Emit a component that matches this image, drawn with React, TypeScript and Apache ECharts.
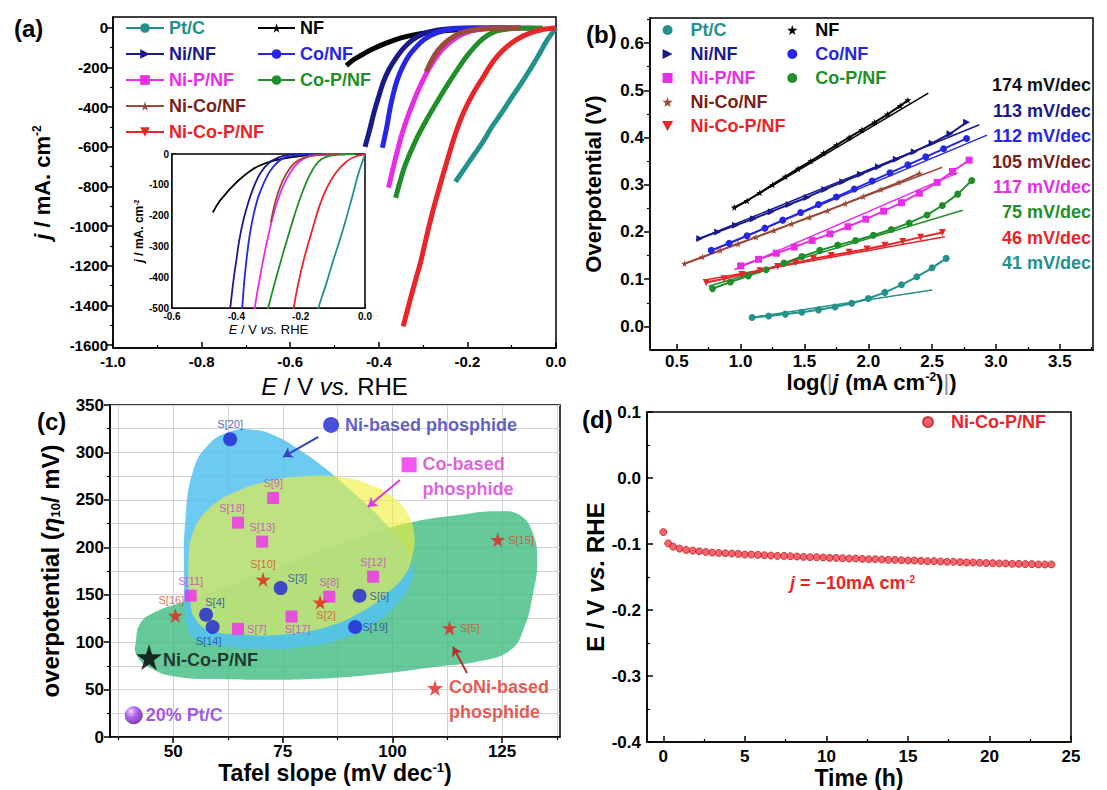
import React, { useEffect, useRef } from "react";
import * as echarts from "echarts";

const FONT = "'Liberation Sans', Arial, Helvetica, sans-serif";

// ---------- (a) polarization curves: [E (V vs. RHE), j (mA cm-2)]
const lsvPtC = [[0.0, -2], [-0.008, -25], [-0.02, -62], [-0.04, -140], [-0.06, -215], [-0.08, -285], [-0.1, -350], [-0.12, -420], [-0.145, -500], [-0.165, -575], [-0.185, -640], [-0.205, -705], [-0.227, -776]];
const lsvNF = [[-0.08, 0], [-0.16, -3], [-0.22, -9], [-0.27, -18], [-0.31, -30], [-0.35, -50], [-0.385, -78], [-0.415, -108], [-0.44, -138], [-0.458, -162], [-0.473, -190]];
const lsvNiNF = [[-0.12, 0], [-0.2, -1], [-0.24, -4], [-0.27, -12], [-0.3, -30], [-0.325, -62], [-0.345, -105], [-0.362, -155], [-0.377, -210], [-0.39, -275], [-0.4, -345], [-0.41, -420], [-0.419, -500], [-0.431, -600]];
const lsvCoNF = [[-0.1, 0], [-0.18, -1], [-0.24, -8], [-0.27, -25], [-0.295, -55], [-0.315, -95], [-0.332, -140], [-0.347, -200], [-0.358, -260], [-0.367, -330], [-0.375, -410], [-0.382, -500], [-0.392, -605]];
const lsvNiPNF = [[-0.05, 0], [-0.13, -2], [-0.18, -10], [-0.21, -30], [-0.235, -65], [-0.257, -110], [-0.277, -170], [-0.295, -240], [-0.31, -310], [-0.323, -380], [-0.335, -450], [-0.347, -530], [-0.358, -620], [-0.368, -710], [-0.378, -806]];
const lsvCoPNF = [[-0.03, 0], [-0.08, -2], [-0.11, -6], [-0.135, -16], [-0.155, -38], [-0.175, -75], [-0.195, -125], [-0.215, -185], [-0.24, -270], [-0.265, -360], [-0.29, -455], [-0.315, -560], [-0.34, -690], [-0.352, -775], [-0.362, -857]];
const lsvNiCoNF = [[-0.08, 0], [-0.15, -3], [-0.19, -12], [-0.22, -30], [-0.245, -65], [-0.265, -110], [-0.28, -160], [-0.293, -222]];
const lsvNiCoPNF = [[0.0, -1], [-0.03, -8], [-0.058, -25], [-0.09, -60], [-0.119, -111], [-0.142, -170], [-0.164, -247], [-0.187, -330], [-0.209, -428], [-0.228, -540], [-0.245, -665], [-0.262, -795], [-0.279, -932], [-0.293, -1060], [-0.306, -1184], [-0.318, -1280], [-0.329, -1370], [-0.345, -1506]];

// ---------- (b) Tafel plots: [log|j|, overpotential (V)]
const tafelPtC = [[1.09, 0.019], [1.22, 0.022], [1.35, 0.026], [1.48, 0.03], [1.61, 0.035], [1.74, 0.041], [1.87, 0.049], [2.0, 0.059], [2.13, 0.072], [2.26, 0.088], [2.38, 0.105], [2.5, 0.124], [2.61, 0.144]];
const tafelNF = [[0.95, 0.252], [1.05, 0.266], [1.15, 0.283], [1.25, 0.3], [1.35, 0.317], [1.45, 0.334], [1.55, 0.35], [1.65, 0.367], [1.75, 0.384], [1.85, 0.4], [1.95, 0.416], [2.05, 0.432], [2.15, 0.449], [2.25, 0.467], [2.31, 0.479]];
const tafelNiNF = [[0.68, 0.186], [0.82, 0.2], [0.96, 0.214], [1.1, 0.228], [1.24, 0.243], [1.38, 0.258], [1.52, 0.273], [1.66, 0.29], [1.8, 0.306], [1.94, 0.322], [2.08, 0.338], [2.22, 0.354], [2.36, 0.37], [2.5, 0.388], [2.64, 0.408], [2.77, 0.432]];
const tafelCoNF = [[0.77, 0.161], [0.91, 0.176], [1.05, 0.192], [1.19, 0.208], [1.33, 0.225], [1.47, 0.241], [1.61, 0.258], [1.75, 0.274], [1.89, 0.291], [2.03, 0.308], [2.17, 0.325], [2.31, 0.342], [2.45, 0.359], [2.59, 0.376], [2.77, 0.398]];
const tafelNiPNF = [[1.0, 0.128], [1.14, 0.142], [1.28, 0.155], [1.42, 0.168], [1.56, 0.182], [1.7, 0.196], [1.84, 0.211], [1.98, 0.227], [2.12, 0.244], [2.26, 0.262], [2.4, 0.282], [2.54, 0.305], [2.66, 0.328], [2.79, 0.352]];
const tafelCoPNF = [[0.78, 0.08], [0.92, 0.094], [1.06, 0.107], [1.2, 0.12], [1.34, 0.134], [1.48, 0.148], [1.62, 0.161], [1.76, 0.172], [1.9, 0.182], [2.04, 0.193], [2.18, 0.205], [2.32, 0.219], [2.46, 0.236], [2.58, 0.256], [2.7, 0.28], [2.81, 0.309]];
const tafelNiCoNF = [[0.56, 0.133], [0.7, 0.147], [0.84, 0.161], [0.98, 0.175], [1.12, 0.189], [1.26, 0.203], [1.4, 0.217], [1.54, 0.231], [1.68, 0.245], [1.82, 0.26], [1.96, 0.275], [2.1, 0.29], [2.24, 0.305], [2.4, 0.324]];
const tafelNiCoPNF = [[0.73, 0.093], [0.87, 0.101], [1.01, 0.11], [1.15, 0.118], [1.29, 0.127], [1.43, 0.135], [1.57, 0.143], [1.71, 0.15], [1.85, 0.157], [1.99, 0.164], [2.13, 0.172], [2.27, 0.18], [2.41, 0.189], [2.58, 0.199]];

const fitPtC = [[1.09, 0.019], [2.5, 0.077]];
const fitNF = [[0.95, 0.25], [2.47, 0.494]];
const fitNiNF = [[0.65, 0.183], [2.87, 0.427]];
const fitCoNF = [[0.75, 0.158], [2.93, 0.405]];
const fitNiPNF = [[0.95, 0.12], [2.7, 0.325]];
const fitCoPNF = [[0.75, 0.085], [2.74, 0.246]];
const fitNiCoNF = [[0.55, 0.131], [2.58, 0.337]];
const fitNiCoPNF = [[0.72, 0.098], [2.6, 0.19]];

const tafelSlopeLabels = ["174 mV/dec", "113 mV/dec", "112 mV/dec", "105 mV/dec", "117 mV/dec", "75 mV/dec", "46 mV/dec", "41 mV/dec"];

// ---------- (c) comparison: Tafel slope (mV dec-1) vs overpotential eta10 (mV)
const niSlope = [63, 74.5, 57.5, 59, 92.5, 91.5];
const niEta = [314, 157, 129, 116, 149, 116];
const niRef = ["S[20]", "S[3]", "S[4]", "S[14]", "S[6]", "S[19]"];
const coSlope = [72.8, 64.8, 70.3, 54, 64.8, 77, 85.6, 95.6];
const coEta = [252, 226, 206, 149, 114, 127, 148, 169];
const coRef = ["S[9]", "S[18]", "S[13]", "S[11]", "S[7]", "S[17]", "S[8]", "S[12]"];
const coniSlope = [70.5, 50.5, 83.5, 124, 113];
const coniEta = [166, 128, 142, 208, 115];
const coniRef = ["S[10]", "S[16]", "S[2]", "S[15]", "S[5]"];
const thisWork = [44.5, 84];
const ptcPoint = [41, 23];

const blobNi = [[53, 120], [52.5, 170], [52.8, 230], [54.5, 280], [58, 308], [63, 322], [68, 324], [73, 318], [79, 302], [85, 282], [91, 258], [97, 232], [102, 205], [104.5, 180], [104, 160], [101, 140], [96, 120], [89, 104], [80, 95], [70, 93], [61, 96], [55, 104]];
const blobCo = [[54, 140], [53.5, 180], [54.5, 215], [58, 240], [64, 258], [72, 270], [80, 275], [88, 274], [95, 266], [100, 253], [103.5, 235], [105, 212], [104.5, 190], [103, 172], [99, 152], [93, 132], [85, 116], [75, 108], [65, 108], [58, 113], [55, 125]];
const blobCoNi = [[41.5, 100], [42.5, 120], [46, 132], [52, 142], [60, 155], [70, 172], [80, 190], [92, 210], [104, 226], [115, 234], [124, 238], [129, 234], [132, 215], [133, 185], [132, 150], [130, 115], [127, 92], [120, 80], [110, 74], [96, 66], [80, 61], [62, 61], [50, 64], [44, 75], [41.5, 88]];

// ---------- (d) stability at j = -10 mA cm-2
const stabilityTime = [0, 0.3, 0.6, 1.0, 1.4, 1.8, 2.2, 2.6, 3.0, 3.4, 3.8, 4.2, 4.6, 5.0, 5.4, 5.8, 6.2, 6.6, 7.0, 7.4, 7.8, 8.2, 8.6, 9.0, 9.4, 9.8, 10.2, 10.6, 11.0, 11.4, 11.8, 12.2, 12.6, 13.0, 13.4, 13.8, 14.2, 14.6, 15.0, 15.4, 15.8, 16.2, 16.6, 17.0, 17.4, 17.8, 18.2, 18.6, 19.0, 19.4, 19.8, 20.2, 20.6, 21.0, 21.4, 21.8, 22.2, 22.6, 23.0, 23.4, 23.8];
const stabilityE = [-0.082, -0.099, -0.104, -0.107, -0.109, -0.11, -0.111, -0.112, -0.113, -0.1135, -0.114, -0.1145, -0.115, -0.116, -0.116, -0.1165, -0.117, -0.1175, -0.118, -0.118, -0.1185, -0.119, -0.1195, -0.12, -0.12, -0.1205, -0.121, -0.121, -0.1215, -0.122, -0.122, -0.1225, -0.123, -0.123, -0.1235, -0.124, -0.124, -0.1245, -0.125, -0.125, -0.1255, -0.126, -0.126, -0.1265, -0.127, -0.127, -0.1275, -0.128, -0.128, -0.1285, -0.129, -0.129, -0.1295, -0.1295, -0.13, -0.13, -0.1305, -0.1305, -0.131, -0.131, -0.131];

// ---------- tick values
const aXMajor = [-1.0, -0.8, -0.6, -0.4, -0.2, 0.0];
const aXMinor = [-0.9, -0.7, -0.5, -0.3, -0.1];
const aYMajor = [0, -200, -400, -600, -800, -1000, -1200, -1400, -1600];
const aYMinor = [-100, -300, -500, -700, -900, -1100, -1300, -1500];
const inXMajor = [-0.6, -0.4, -0.2, 0.0];
const inXMinor = [-0.5, -0.3, -0.1];
const inYMajor = [0, -100, -200, -300, -400, -500];
const bXMajor = [0.5, 1.0, 1.5, 2.0, 2.5, 3.0, 3.5];
const bXMinor = [0.75, 1.25, 1.75, 2.25, 2.75, 3.25, 3.75];
const bYMajor = [0.0, 0.1, 0.2, 0.3, 0.4, 0.5, 0.6];
const bYMinor = [0.05, 0.15, 0.25, 0.35, 0.45, 0.55, 0.65];
const cXMajor = [50, 75, 100, 125];
const cXMinor = [37.5, 62.5, 87.5, 112.5, 137.5];
const cYMajor = [0, 50, 100, 150, 200, 250, 300, 350];
const cYMinor = [25, 75, 125, 175, 225, 275, 325];
const dXMajor = [0, 5, 10, 15, 20, 25];
const dXMinor = [2.5, 7.5, 12.5, 17.5, 22.5];
const dYMajor = [-0.4, -0.3, -0.2, -0.1, 0.0, 0.1];
const dYMinor = [-0.35, -0.25, -0.15, -0.05, 0.05];

// ---------- styles
const STAR = "path://M50,0L61,35L98,35L68,57L79,91L50,70L21,91L32,57L2,35L39,35Z";
const TRI_R = "path://M0,0L10,5L0,10Z";
const TRI_D = "path://M0,0L10,0L5,9Z";
const SQUARE = "path://M0,0L10,0L10,10L0,10Z";

const samples = [
  { key: "Pt/C", color: "#23918C", text: "#23918C", symbol: "circle", lsv: lsvPtC, tafel: tafelPtC, fit: fitPtC },
  { key: "NF", color: "#000000", text: "#000000", symbol: STAR, lsv: lsvNF, tafel: tafelNF, fit: fitNF },
  { key: "Ni/NF", color: "#1A1A8C", text: "#1A1A8C", symbol: TRI_R, lsv: lsvNiNF, tafel: tafelNiNF, fit: fitNiNF },
  { key: "Co/NF", color: "#2626E6", text: "#2626E6", symbol: "circle", lsv: lsvCoNF, tafel: tafelCoNF, fit: fitCoNF },
  { key: "Ni-P/NF", color: "#E62EE6", text: "#E62EE6", symbol: SQUARE, lsv: lsvNiPNF, tafel: tafelNiPNF, fit: fitNiPNF },
  { key: "Co-P/NF", color: "#1F8F2A", text: "#1F8F2A", symbol: "circle", lsv: lsvCoPNF, tafel: tafelCoPNF, fit: fitCoPNF },
  { key: "Ni-Co/NF", color: "#9C4A3A", text: "#7A1F1A", symbol: STAR, lsv: lsvNiCoNF, tafel: tafelNiCoNF, fit: fitNiCoNF },
  { key: "Ni-Co-P/NF", color: "#E8262A", text: "#E8262A", symbol: TRI_D, lsv: lsvNiCoPNF, tafel: tafelNiCoPNF, fit: fitNiCoPNF },
];
const byKey = (k: string) => samples.find((s) => s.key === k)!;

const slopeLabelColors = ["#111111", "#1A1A8C", "#2626E6", "#7A1F1A", "#E62EE6", "#1F8F2A", "#E8262A", "#23918C"];
const slopeLabelY = [85, 111, 136, 162, 187, 212, 238, 263];

const cLabel: Record<string, any> = {
  "S[20]": { position: "top" },
  "S[3]": { position: "right", offset: [-3, -10] },
  "S[4]": { position: "top", offset: [9, 3] },
  "S[14]": { position: "bottom", offset: [-4, -1] },
  "S[6]": { position: "right" },
  "S[19]": { position: "right", offset: [-3, 0] },
  "S[9]": { position: "top" },
  "S[18]": { position: "top", offset: [-6, 0] },
  "S[13]": { position: "top" },
  "S[11]": { position: "top" },
  "S[7]": { position: "right" },
  "S[17]": { position: "bottom", offset: [6, -2] },
  "S[8]": { position: "top" },
  "S[12]": { position: "top" },
  "S[10]": { position: "top" },
  "S[16]": { position: "top", offset: [-4, 0] },
  "S[2]": { position: "bottom", offset: [6, -3] },
  "S[15]": { position: "right" },
  "S[5]": { position: "right" },
};

function axisPair(dir: "x" | "y", grid: number, s: any) {
  const base: any = { gridIndex: grid, type: "value", min: s.min, max: s.max, position: dir === "x" ? "bottom" : "left" };
  const split = { show: !!s.split, lineStyle: { color: "#d2d2d2", width: 1 } };
  const major = {
    ...base,
    name: s.name || "",
    nameLocation: "middle",
    nameGap: s.nameGap || 30,
    nameRotate: dir === "y" ? 90 : 0,
    nameTextStyle: s.nameStyle || {},
    axisLine: { show: true, onZero: false, lineStyle: { color: "#000", width: 1.5 } },
    axisTick: { show: true, inside: !!s.inside, length: s.tickLen || 6, customValues: s.major, lineStyle: { color: "#000", width: 1.5 } },
    axisLabel: { show: true, customValues: s.major, formatter: s.fmt, color: "#000", fontFamily: FONT, fontWeight: "bold", fontSize: s.fontSize, margin: s.margin ?? 6 },
    splitLine: split,
  };
  const minor = {
    ...base,
    axisLine: { show: false, onZero: false },
    axisTick: { show: !!s.minor, inside: !!s.inside, length: 3, customValues: s.minor || [], lineStyle: { color: "#000", width: 1.2 } },
    axisLabel: { show: false },
    splitLine: split,
  };
  return [major, minor];
}

const nameRich = (size: number) => ({
  fontFamily: FONT,
  fontWeight: "bold",
  fontSize: size,
  color: "#000",
  rich: {
    n: { fontFamily: FONT, fontWeight: "bold", fontSize: size, color: "#000" },
    r: { fontFamily: FONT, fontWeight: "normal", fontSize: size, color: "#000" },
    i: { fontFamily: FONT, fontWeight: "bold", fontStyle: "italic", fontSize: size, color: "#000" },
    ir: { fontFamily: FONT, fontWeight: "normal", fontStyle: "italic", fontSize: size, color: "#000" },
    g: { fontFamily: FONT, fontWeight: "normal", fontSize: size, color: "#888" },
    s: { fontFamily: FONT, fontWeight: "bold", fontSize: Math.round(size * 0.55), color: "#000", verticalAlign: "top" },
    sub: { fontFamily: FONT, fontWeight: "bold", fontSize: Math.round(size * 0.55), color: "#000", verticalAlign: "bottom" },
  },
});

function buildOption() {
  const f1 = (v: number) => v.toFixed(1);
  const f0 = (v: number) => String(v);

  const xA = [
    ...axisPair("x", 0, { min: -1, max: 0, major: aXMajor, minor: aXMinor, fmt: f1, inside: true, fontSize: 15, margin: 6, name: "{ir|E} {r|/ V} {ir|vs.} {r|RHE}", nameGap: 26, nameStyle: nameRich(24) }),
    ...axisPair("x", 1, { min: -0.6, max: 0, major: inXMajor, minor: inXMinor, fmt: f1, inside: true, fontSize: 10, margin: 3, tickLen: 4, name: "{ir|E} {r|/ V} {ir|vs.} {r|RHE}", nameGap: 15, nameStyle: nameRich(13) }),
    ...axisPair("x", 2, { min: 0.29, max: 3.76, major: bXMajor, minor: bXMinor, fmt: f1, inside: true, fontSize: 17, margin: 3, name: "{n|log(}{g||}{i|j}{n| (mA cm}{s|-2}{n|)}{g||}{n|)}", nameGap: 21, nameStyle: nameRich(22) }),
    ...axisPair("x", 3, { min: 35.6, max: 138.2, major: cXMajor, minor: cXMinor, fmt: f0, inside: false, fontSize: 17, margin: 6, split: true, name: "{n|Tafel slope (mV dec}{s|-1}{n|)}", nameGap: 24, nameStyle: nameRich(23) }),
    ...axisPair("x", 4, { min: -1, max: 25, major: dXMajor, minor: dXMinor, fmt: f0, inside: true, fontSize: 17, margin: 6, name: "Time (h)", nameGap: 24, nameStyle: nameRich(23) }),
  ];
  const yA = [
    ...axisPair("y", 0, { min: -1615, max: 55, major: aYMajor, minor: aYMinor, fmt: f0, inside: false, fontSize: 15, margin: 5, name: "{i|j}{n| / mA. cm}{s|-2}", nameGap: 60, nameStyle: nameRich(22) }),
    ...axisPair("y", 1, { min: -500, max: 0, major: inYMajor, minor: null, fmt: f0, inside: true, fontSize: 10, margin: 3, tickLen: 4, name: "{i|j}{n| / mA. cm}{s|-2}", nameGap: 27, nameStyle: nameRich(12) }),
    ...axisPair("y", 2, { min: -0.05, max: 0.653, major: bYMajor, minor: bYMinor, fmt: f1, inside: false, fontSize: 17, margin: 6, name: "Overpotential (V)", nameGap: 46, nameStyle: nameRich(22) }),
    ...axisPair("y", 3, { min: 0, max: 350, major: cYMajor, minor: cYMinor, fmt: f0, inside: false, fontSize: 17, margin: 6, split: true, name: "{n|overpotential (}{i|η}{sub|10}{n|/ mV)}", nameGap: 48, nameStyle: nameRich(24) }),
    ...axisPair("y", 4, { min: -0.4, max: 0.1, major: dYMajor, minor: dYMinor, fmt: f1, inside: true, fontSize: 17, margin: 6, name: "{n|E / V }{i|vs.}{n| RHE}", nameGap: 38, nameStyle: nameRich(24) }),
  ];

  const gridBase = { show: true, borderColor: "#000", borderWidth: 1.5, containLabel: false, outerBoundsMode: "none" };
  const grids = [
    { ...gridBase, left: 113, top: 17, width: 443, height: 331 },
    { ...gridBase, left: 172, top: 154, width: 193, height: 154, backgroundColor: "#fff", z: 3 },
    { ...gridBase, left: 650, top: 18, width: 443, height: 332 },
    { ...gridBase, left: 110, top: 405, width: 450, height: 332 },
    { ...gridBase, left: 647, top: 412, width: 424, height: 330 },
  ];

  const series: any[] = [];
  // (a) main curves
  samples.forEach((s) => {
    series.push({
      type: "line", name: s.key, xAxisIndex: 0, yAxisIndex: 0, data: s.lsv, smooth: 0.35,
      showSymbol: false, symbol: s.symbol, symbolSize: 8,
      lineStyle: { color: s.color, width: 5 }, itemStyle: { color: s.color }, emphasis: { disabled: true },
    });
  });
  // (a) inset
  samples.forEach((s) => {
    series.push({
      type: "line", name: "i:" + s.key, xAxisIndex: 2, yAxisIndex: 2, data: s.lsv, smooth: 0.35, clip: true,
      showSymbol: false, lineStyle: { color: s.color, width: 1.8 }, itemStyle: { color: s.color }, z: 5, emphasis: { disabled: true },
    });
  });
  // (b) Tafel
  samples.forEach((s) => {
    series.push({
      type: "line", name: "b:" + s.key, xAxisIndex: 4, yAxisIndex: 4, data: s.tafel,
      showSymbol: true, symbol: s.symbol, symbolSize: 7,
      lineStyle: { color: s.color, width: 2 }, itemStyle: { color: s.color }, emphasis: { disabled: true },
    });
    series.push({
      type: "line", name: "f:" + s.key, xAxisIndex: 4, yAxisIndex: 4, data: s.fit,
      showSymbol: false, lineStyle: { color: s.color, width: 1.5 }, emphasis: { disabled: true },
    });
  });

  // (c) blobs
  const blob = (pts: number[][], fill: string) => ({
    type: "custom", xAxisIndex: 6, yAxisIndex: 6, silent: true, data: [pts[0]],
    renderItem: (_p: any, api: any) => ({
      type: "polygon",
      shape: { points: pts.map((p) => api.coord(p)), smooth: 0.45 },
      style: { fill },
    }),
  });
  series.push(blob(blobCoNi, "rgba(58,186,124,0.78)"));
  series.push(blob(blobNi, "rgba(84,194,238,0.85)"));
  series.push(blob(blobCo, "rgba(240,240,60,0.62)"));

  // (c) arrows
  const arrow = (coords: number[][], color: string) => ({
    type: "lines", coordinateSystem: "cartesian2d", xAxisIndex: 6, yAxisIndex: 6, silent: true,
    symbol: ["none", "arrow"], symbolSize: 9, lineStyle: { color, width: 2, opacity: 1 },
    data: [{ coords }],
  });
  series.push(arrow([[83.1, 316.5], [75.1, 295.4]], "#3340C0"));
  series.push(arrow([[101.7, 271], [94.4, 242.6]], "#D940D9"));
  series.push(arrow([[117, 67.5], [113.8, 95]], "#B03028"));

  const lbl = (color: string) => ({ show: true, formatter: "{b}", color, fontFamily: FONT, fontSize: 11, distance: 3 });
  const mk = (refs: string[], xs: number[], ys: number[]) =>
    refs.map((r, i) => ({ name: r, value: [xs[i], ys[i]], label: cLabel[r] }));

  series.push({
    type: "scatter", name: "c:Ni", xAxisIndex: 6, yAxisIndex: 6, symbol: "circle", symbolSize: 14,
    itemStyle: { color: "#1F22D6" }, label: lbl("#2B3FA8"), data: mk(niRef, niSlope, niEta), z: 4,
  });
  series.push({
    type: "scatter", name: "c:Co", xAxisIndex: 6, yAxisIndex: 6, symbol: "rect", symbolSize: 12,
    itemStyle: { color: "#F02CF0" }, label: lbl("#C83CC8"), data: mk(coRef, coSlope, coEta), z: 4,
  });
  series.push({
    type: "scatter", name: "c:CoNi", xAxisIndex: 6, yAxisIndex: 6, symbol: STAR, symbolSize: 15,
    itemStyle: { color: "#E5231B" }, label: lbl("#D2501E"), data: mk(coniRef, coniSlope, coniEta), z: 4,
  });
  series.push({
    type: "scatter", name: "c:this", xAxisIndex: 6, yAxisIndex: 6, symbol: STAR, symbolSize: 26,
    itemStyle: { color: "#000" },
    label: { show: true, position: "right", distance: 1, offset: [0, 3], formatter: "Ni-Co-P/NF", color: "#111", fontFamily: FONT, fontWeight: "bold", fontSize: 18 },
    data: [thisWork], z: 4,
  });
  series.push({
    type: "scatter", name: "c:ptc", xAxisIndex: 6, yAxisIndex: 6, symbol: "circle", symbolSize: 18,
    itemStyle: {
      color: new echarts.graphic.RadialGradient(0.35, 0.3, 0.75, [
        { offset: 0, color: "#F0C8FF" },
        { offset: 0.45, color: "#9A3BE8" },
        { offset: 1, color: "#5A10A8" },
      ]),
    },
    label: { show: true, position: "right", distance: 3, formatter: "20% Pt/C", color: "#8A2BE2", fontFamily: FONT, fontWeight: "bold", fontSize: 18 },
    data: [ptcPoint], z: 4,
  });
  // (c) key markers
  const keyLabel = (text: string, color: string, dy: number) => ({
    show: true, position: "right", distance: 6, offset: [0, dy], formatter: text, color,
    fontFamily: FONT, fontWeight: "bold", fontSize: 18, lineHeight: 25,
  });
  series.push({
    type: "scatter", name: "c:keyNi", xAxisIndex: 6, yAxisIndex: 6, symbol: "circle", symbolSize: 16,
    itemStyle: { color: "#1F22D6" }, label: keyLabel("Ni-based phosphide", "#3838B8", 0), data: [[86, 329]], z: 4,
  });
  series.push({
    type: "scatter", name: "c:keyCo", xAxisIndex: 6, yAxisIndex: 6, symbol: "rect", symbolSize: 15,
    itemStyle: { color: "#F02CF0" }, label: keyLabel("Co-based\nphosphide", "#D43BD4", 12), data: [[103.8, 287]], z: 4,
  });
  series.push({
    type: "scatter", name: "c:keyCoNi", xAxisIndex: 6, yAxisIndex: 6, symbol: STAR, symbolSize: 16,
    itemStyle: { color: "#E5231B" }, label: keyLabel("CoNi-based\nphosphide", "#E0302A", 12), data: [[109.7, 51.7]], z: 4,
  });

  // (d)
  series.push({
    type: "scatter", name: "d:Ni-Co-P/NF", xAxisIndex: 8, yAxisIndex: 8, symbol: "circle", symbolSize: 7,
    itemStyle: { color: "#EE3E46", borderColor: "#C01F28", borderWidth: 1 },
    data: stabilityTime.map((t, i) => [t, stabilityE[i]]),
  });

  const legText = { fontFamily: FONT, fontWeight: "bold", fontSize: 18, lineHeight: 18 };
  const legA = (names: string[], left: number, w: number) => ({
    show: true, orient: "vertical", left, top: 19, padding: 0, itemGap: 8, itemWidth: w, itemHeight: 12,
    selectedMode: false, lineStyle: { width: 2 }, textStyle: legText,
    data: names.map((n) => ({ name: n, textStyle: { color: byKey(n).text } })),
  });
  const legB = (names: string[], left: number) => ({
    show: true, orient: "vertical", left, top: 21, padding: 0, itemGap: 6, itemWidth: 36, itemHeight: 10,
    selectedMode: false, textStyle: legText, formatter: (n: string) => n.slice(2),
    data: names.map((n) => ({ name: "b:" + n, icon: byKey(n).symbol, textStyle: { color: byKey(n).text } })),
  });
  const legends = [
    legA(["Pt/C", "Ni/NF", "Ni-P/NF", "Ni-Co/NF", "Ni-Co-P/NF"], 125, 38),
    legA(["NF", "Co/NF", "Co-P/NF"], 257, 37),
    legB(["Pt/C", "Ni/NF", "Ni-P/NF", "Ni-Co/NF", "Ni-Co-P/NF"], 662),
    legB(["NF", "Co/NF", "Co-P/NF"], 787),
    {
      show: true, orient: "vertical", left: 922, top: 413, padding: 0, itemWidth: 36, itemHeight: 10,
      selectedMode: false, textStyle: { ...legText, color: "#E8262A" }, formatter: (n: string) => n.slice(2),
      data: [{ name: "d:Ni-Co-P/NF", icon: "circle" }],
    },
  ];

  const txt = (x: number, y: number, text: string, size: number, fill = "#000", align = "left") => ({
    type: "text", x, y, silent: true,
    style: { text, fill, fontFamily: FONT, fontWeight: "bold", fontSize: size, textAlign: align, align, textVerticalAlign: "middle", verticalAlign: "middle" },
  });
  const graphics: any[] = [
    txt(14, 28, "(a)", 24),
    txt(586, 34, "(b)", 24),
    txt(37, 421, "(c)", 24),
    txt(582, 419, "(d)", 24),
    ...tafelSlopeLabels.map((t, i) => txt(1091, slopeLabelY[i], t, 18, slopeLabelColors[i], "right")),
    {
      type: "text", x: 790, y: 583, silent: true,
      style: {
        text: "{i|j}{n| = −10mA cm}{s|-2}",
        fill: "#E8262A", textVerticalAlign: "middle", verticalAlign: "middle",
        rich: {
          i: { fontFamily: FONT, fontWeight: "bold", fontStyle: "italic", fontSize: 18, fill: "#E8262A" },
          n: { fontFamily: FONT, fontWeight: "bold", fontSize: 18, fill: "#E8262A" },
          s: { fontFamily: FONT, fontWeight: "bold", fontSize: 10, fill: "#E8262A", verticalAlign: "top" },
        },
      },
    },
  ];

  return {
    animation: false,
    backgroundColor: "#fff",
    textStyle: { fontFamily: FONT },
    grid: grids,
    xAxis: xA,
    yAxis: yA,
    legend: legends,
    series,
    graphic: graphics,
  };
}

export default function App() {
  const ref = useRef<HTMLDivElement>(null);
  useEffect(() => {
    document.body.style.margin = "0";
    const chart = echarts.init(ref.current as HTMLDivElement, null, { renderer: "svg" });
    chart.setOption(buildOption() as any);
    return () => chart.dispose();
  }, []);
  return <div ref={ref} style={{ width: 1107, height: 790, background: "#fff" }} />;
}
